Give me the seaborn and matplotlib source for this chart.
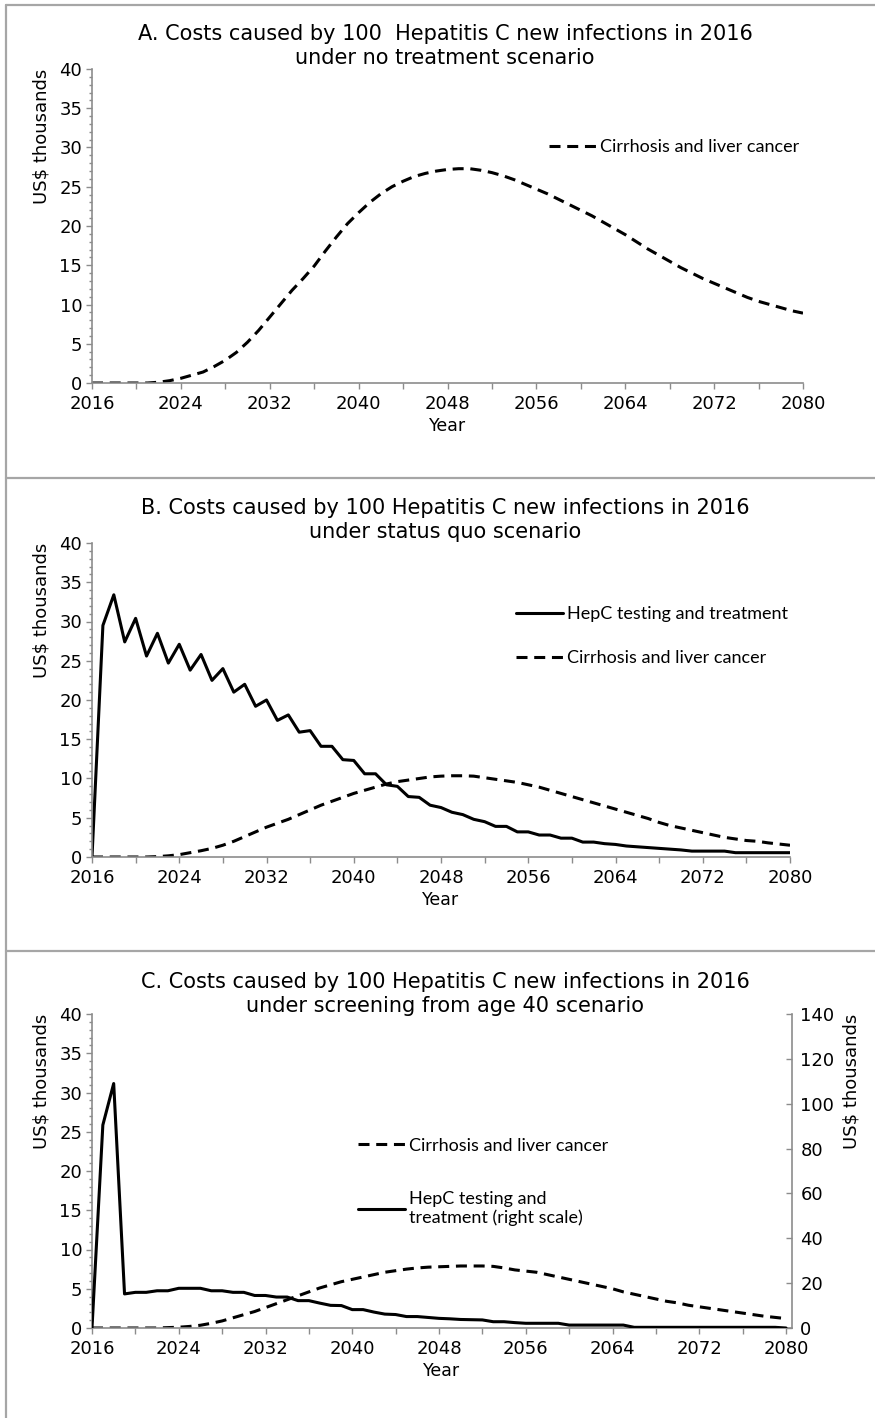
import numpy as np
import pandas as pd
import matplotlib
matplotlib.use("Agg")
import matplotlib.pyplot as plt
from matplotlib.ticker import MultipleLocator
from matplotlib.lines import Line2D
import seaborn as sns

# ---------------- data ----------------
years = list(range(2016, 2081))

a_cirrhosis = [0, 0, 0, 0, 0, 0, 0.1, 0.3, 0.6, 1.0,
               1.4, 2.1, 2.9, 3.9, 5.2, 6.7, 8.4, 10.1, 11.8, 13.3,
               14.9, 16.8, 18.6, 20.3, 21.7, 23.0, 24.1, 25.0, 25.7, 26.3,
               26.7, 27.0, 27.2, 27.3, 27.3, 27.1, 26.8, 26.4, 25.9, 25.3,
               24.7, 24.1, 23.4, 22.7, 22.0, 21.3, 20.5, 19.7, 18.9, 18.0,
               17.1, 16.3, 15.5, 14.7, 14.0, 13.3, 12.7, 12.1, 11.5, 10.9,
               10.4, 10.0, 9.6, 9.2, 8.9]

b_hepc = [0, 29.5, 33.4, 27.4, 30.4, 25.6, 28.5, 24.7, 27.1, 23.8,
          25.8, 22.5, 24.0, 21.0, 22.0, 19.2, 20.0, 17.4, 18.1, 15.9,
          16.1, 14.1, 14.1, 12.4, 12.3, 10.6, 10.6, 9.2, 9.0, 7.7,
          7.6, 6.6, 6.3, 5.7, 5.4, 4.8, 4.5, 3.9, 3.9, 3.2,
          3.2, 2.8, 2.8, 2.4, 2.4, 1.9, 1.9, 1.7, 1.6, 1.4,
          1.3, 1.2, 1.1, 1.0, 0.9, 0.75, 0.75, 0.75, 0.75, 0.55,
          0.55, 0.55, 0.55, 0.55, 0.55]

b_cirrhosis = [0, 0, 0, 0, 0, 0, 0.05, 0.15, 0.3, 0.55,
               0.8, 1.1, 1.5, 2.0, 2.6, 3.2, 3.8, 4.3, 4.8, 5.4,
               6.0, 6.6, 7.1, 7.6, 8.1, 8.5, 8.9, 9.3, 9.6, 9.8,
               10.0, 10.2, 10.3, 10.35, 10.35, 10.3, 10.1, 9.9, 9.7, 9.5,
               9.2, 8.9, 8.5, 8.1, 7.7, 7.3, 6.9, 6.5, 6.1, 5.7,
               5.3, 4.9, 4.4, 4.0, 3.7, 3.4, 3.1, 2.8, 2.5, 2.3,
               2.1, 2.0, 1.8, 1.65, 1.5]

c_hepc_right = [0, 90.5, 109, 15.2, 15.9, 15.9, 16.6, 16.6, 17.7, 17.7,
                17.7, 16.6, 16.6, 15.9, 15.9, 14.5, 14.5, 13.8, 13.8, 12.2,
                12.2, 11.1, 10.1, 10.0, 8.2, 8.2, 7.1, 6.2, 6.0, 5.1,
                5.1, 4.7, 4.3, 4.1, 3.8, 3.7, 3.6, 2.8, 2.8, 2.4,
                2.1, 2.1, 2.1, 2.1, 1.3, 1.3, 1.3, 1.3, 1.3, 1.3,
                0.3, 0.3, 0.3, 0.3, 0.3, 0.3, 0.3, 0.3, 0.3, 0.3,
                0.3, 0.3, 0.3, 0.3, 0]

c_cirrhosis = [0, 0, 0, 0, 0, 0, 0, 0.05, 0.1, 0.2,
               0.35, 0.6, 0.9, 1.3, 1.7, 2.1, 2.6, 3.1, 3.6, 4.1,
               4.6, 5.1, 5.5, 5.9, 6.2, 6.5, 6.8, 7.1, 7.3, 7.5,
               7.65, 7.75, 7.8, 7.85, 7.9, 7.9, 7.9, 7.85, 7.65, 7.4,
               7.25, 7.1, 6.8, 6.5, 6.2, 5.9, 5.6, 5.3, 5.0, 4.6,
               4.3, 4.0, 3.7, 3.4, 3.2, 2.9, 2.7, 2.5, 2.3, 2.1,
               1.9, 1.7, 1.5, 1.35, 1.2]

titles = [
    "A. Costs caused by 100  Hepatitis C new infections in 2016\nunder no treatment scenario",
    "B. Costs caused by 100 Hepatitis C new infections in 2016\nunder status quo scenario",
    "C. Costs caused by 100 Hepatitis C new infections in 2016\nunder screening from age 40 scenario",
]
lbl_cirr = "Cirrhosis and liver cancer"
lbl_hepc = "HepC testing and treatment"
lbl_hepc_c = "HepC testing and\ntreatment (right scale)"
xticks = list(range(2016, 2081, 8))

# ---------------- style ----------------
sns.set_style("white")
plt.rcParams["font.family"] = ["DejaVu Sans"]
plt.rcParams["text.color"] = "black"
plt.rcParams["axes.labelcolor"] = "black"
W, H = 875, 1418
fig = plt.figure(figsize=(W / 100, H / 100), dpi=100)

GRAY = "#8c8c8c"
DASH = (0, (3.6, 2.2))
LW = 2.2
LEGFONT = {"family": "Lato", "size": 13}
TICKSIZE = 13


def fx(px):
    return px / W


def fy(py):
    return 1 - py / H


def axes_rect(left, right, top, bottom):
    return [fx(left), fy(bottom), fx(right) - fx(left), (bottom - top) / H]


def style_axis(ax, xmax=2080):
    ax.set_xlim(2016, xmax)
    ax.set_ylim(0, 40)
    ax.xaxis.set_major_locator(MultipleLocator(8))
    ax.xaxis.set_minor_locator(MultipleLocator(4))
    ax.set_xticks(xticks)
    ax.yaxis.set_major_locator(MultipleLocator(5))
    ax.yaxis.set_minor_locator(MultipleLocator(1))
    for s in ["top", "right"]:
        ax.spines[s].set_visible(False)
    for s in ["left", "bottom"]:
        ax.spines[s].set_color(GRAY)
        ax.spines[s].set_linewidth(1.2)
    ax.tick_params(axis="both", which="both", direction="out", color=GRAY,
                   width=1.0, labelsize=TICKSIZE, labelcolor="black",
                   bottom=True, left=True, top=False, right=False)
    ax.tick_params(axis="x", which="both", length=4.5, pad=4)
    ax.tick_params(axis="y", which="major", length=4, pad=3)
    ax.tick_params(axis="y", which="minor", length=2.5)
    ax.set_xlabel("Year", fontsize=12.5, labelpad=3, color="black")
    ax.set_ylabel("US$ thousands", fontsize=13, loc="top", labelpad=6,
                  color="black")
    ax.set_facecolor("white")


# ---------------- panel A ----------------
axA = fig.add_axes(axes_rect(92, 803, 69, 383))
sns.lineplot(x=years, y=a_cirrhosis, ax=axA, color="black", linewidth=LW,
             linestyle=DASH, label=lbl_cirr)
style_axis(axA)
axA.legend(loc="center left", bbox_to_anchor=(fx(549), fy(147)),
           bbox_transform=fig.transFigure, frameon=False, prop=LEGFONT,
           handlelength=2.6, handletextpad=0.2, borderpad=0, borderaxespad=0)

# ---------------- panel B ----------------
axB = fig.add_axes(axes_rect(92, 790, 543, 857))
sns.lineplot(x=years, y=b_hepc, ax=axB, color="black", linewidth=LW,
             label=lbl_hepc)
sns.lineplot(x=years, y=b_cirrhosis, ax=axB, color="black", linewidth=LW,
             linestyle=DASH, label=lbl_cirr)
style_axis(axB)
axB.legend(loc="center left", bbox_to_anchor=(fx(516), fy(636)),
           bbox_transform=fig.transFigure, frameon=False, prop=LEGFONT,
           handlelength=2.6, handletextpad=0.2, borderpad=0, borderaxespad=0,
           labelspacing=1.55)

# ---------------- panel C ----------------
axC = fig.add_axes(axes_rect(92, 792, 1014, 1328))
sns.lineplot(x=years, y=c_cirrhosis, ax=axC, color="black", linewidth=LW,
             linestyle=DASH, label=lbl_cirr)
style_axis(axC, xmax=2016 + 64 * (792 - 92) / (786 - 92))
axC2 = axC.twinx()
sns.lineplot(x=years, y=c_hepc_right, ax=axC2, color="black", linewidth=LW,
             label=lbl_hepc_c)
axC2.set_ylim(0, 140)
axC2.yaxis.set_major_locator(MultipleLocator(20))
for s in ["top", "left", "bottom"]:
    axC2.spines[s].set_visible(False)
axC2.spines["right"].set_color(GRAY)
axC2.spines["right"].set_linewidth(1.2)
axC2.tick_params(axis="y", which="major", direction="in", color=GRAY,
                 length=4.5, width=1.0, labelsize=TICKSIZE, pad=6,
                 right=True, left=False, labelcolor="black")
axC2.tick_params(axis="y", which="minor", right=False, left=False)
axC2.set_ylabel("US$ thousands", fontsize=13, loc="top", labelpad=6,
                color="black")
if axC2.get_legend() is not None:
    axC2.get_legend().remove()
h1, l1 = axC.get_legend_handles_labels()
h2, l2 = axC2.get_legend_handles_labels()
axC.legend(h1 + h2, l1 + l2, loc="center left",
           bbox_to_anchor=(fx(358), fy(1182)),
           bbox_transform=fig.transFigure, frameon=False, prop=LEGFONT,
           handlelength=2.6, handletextpad=0.2, borderpad=0, borderaxespad=0,
           labelspacing=2.07)

# ---------------- titles ----------------
for t, y in zip(titles, [46, 520, 994]):
    fig.text(fx(445), fy(y), t, ha="center", va="center", fontsize=15,
             linespacing=1.3, color="black")

# ---------------- panel frames ----------------
BORDER = "#a6a6a6"
for y in [5, 478, 951]:
    fig.add_artist(Line2D([fx(6), 1.0], [fy(y), fy(y)], color=BORDER,
                          linewidth=1.6, transform=fig.transFigure))
fig.add_artist(Line2D([fx(6), fx(6)], [fy(5), 0.0], color=BORDER,
                      linewidth=1.6, transform=fig.transFigure))

fig.savefig("out.png", dpi=100, facecolor="white")
